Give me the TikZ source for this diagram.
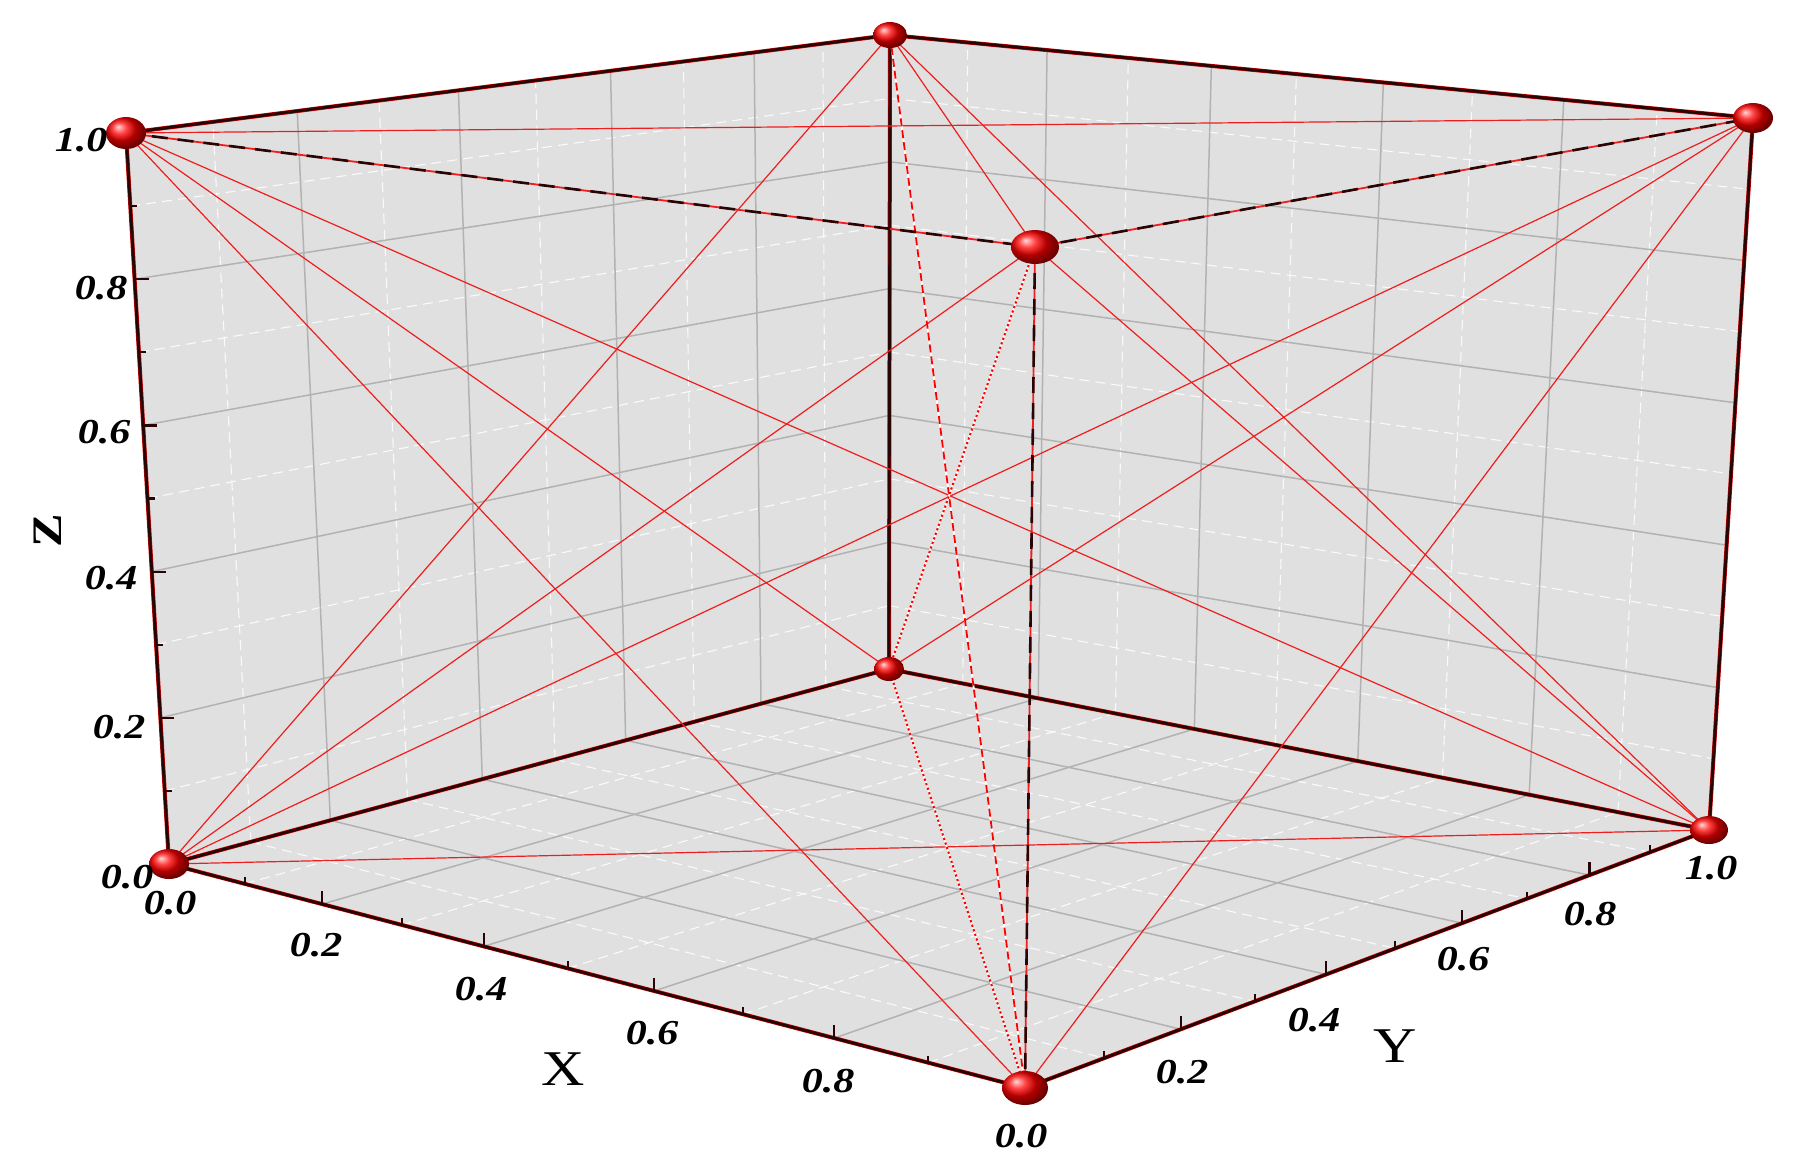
\documentclass[tikz,border=0pt]{standalone}
\usepackage{fontspec}
\setmainfont{Liberation Serif}
\usetikzlibrary{calc}
\definecolor{wallgray}{RGB}{224,224,224}
\definecolor{edgecol}{RGB}{40,4,4}
\definecolor{linkred}{RGB}{238,30,30}
\newcommand\facelines[8]{%
 \foreach \tv in {#8}{%
  \pgfmathsetmacro\ua{(\tv*#3)/(1-\tv+\tv*#3)}%
  \pgfmathsetmacro\ub{(\tv*#6)/(1-\tv+\tv*#6)}%
  \draw[#7] ($(#1)!\ua!(#2)$) -- ($(#4)!\ub!(#5)$);
 }}
\newcommand\axticks[6]{% P0 P1 k list dx dy
 \foreach \tv in {#4}{%
  \pgfmathsetmacro\ua{(\tv*#3)/(1-\tv+\tv*#3)}%
  \draw[ticksty] ($(#1)!\ua!(#2)$) -- ++(#5,#6);
 }}
\newcommand\ticklab[1]{{\fontsize{17.5}{17.5}\selectfont\bfseries\itshape\scalebox{1.2}[1]{#1}}}
\newcommand\ballat[3]{\shade[ball color=red] (#1) ellipse [x radius=#2, y radius=#3];}
\begin{document}
\begin{tikzpicture}[x=0.5pt,y=-0.5pt,
  wall/.style={fill=wallgray},
  major/.style={draw=black!30, line width=0.75pt},
  minor/.style={draw=white!85!wallgray, line width=0.55pt, dash pattern=on 5pt off 3pt},
  edgeunder/.style={draw=red!80!black, line width=2.0pt},
  edge/.style={draw=edgecol, line width=1.4pt},
  link/.style={draw=linkred, line width=0.6pt},
  frontbase/.style={draw=linkred, line width=0.9pt},
  frontdash/.style={draw=edgecol, line width=1.3pt, dash pattern=on 8pt off 5pt},
  redash/.style={draw=red, line width=0.9pt, dash pattern=on 4pt off 2pt},
  redot/.style={draw=red, line width=1pt, dash pattern=on 1.1pt off 1.3pt},
  whiteunder/.style={draw=white, line width=0.9pt},
  ticksty/.style={draw=edgecol, line width=1.1pt},
  lab/.style={inner sep=0pt},
  ]
\useasboundingbox (0,0) rectangle (1803,1174);
% corners
\coordinate (E) at (169,864);
\coordinate (H) at (1025,1088);
\coordinate (F) at (889,669);
\coordinate (G) at (1709,830);
\coordinate (A) at (126,133);
\coordinate (D) at (1035,247);
\coordinate (B) at (890,35);
\coordinate (C) at (1753,118);
% walls
\fill[wall] (E) -- (F) -- (B) -- (A) -- cycle;
\fill[wall] (F) -- (G) -- (C) -- (B) -- cycle;
\fill[wall] (E) -- (H) -- (G) -- (F) -- cycle;
% grid: left wall (x=0)
\facelines{E}{F}{1.156}{A}{B}{1.156}{minor}{0.1,0.3,0.5,0.7,0.9}
\facelines{E}{A}{1}{F}{B}{1}{minor}{0.1,0.3,0.5,0.7,0.9}
\facelines{E}{F}{1.156}{A}{B}{1.156}{major}{0.2,0.4,0.6,0.8}
\facelines{E}{A}{1}{F}{B}{1}{major}{0.2,0.4,0.6,0.8}
% grid: back wall (y=1)
\facelines{F}{G}{0.89}{B}{C}{0.89}{minor}{0.1,0.3,0.5,0.7,0.9}
\facelines{F}{B}{1}{G}{C}{1}{minor}{0.1,0.3,0.5,0.7,0.9}
\facelines{F}{G}{0.89}{B}{C}{0.89}{major}{0.2,0.4,0.6,0.8}
\facelines{F}{B}{1}{G}{C}{1}{major}{0.2,0.4,0.6,0.8}
% grid: floor (z=0)
\facelines{E}{H}{0.872}{F}{G}{0.89}{minor}{0.1,0.3,0.5,0.7,0.9}
\facelines{E}{F}{1.156}{H}{G}{1.18}{minor}{0.1,0.3,0.5,0.7,0.9}
\facelines{E}{H}{0.872}{F}{G}{0.89}{major}{0.2,0.4,0.6,0.8}
\facelines{E}{F}{1.156}{H}{G}{1.18}{major}{0.2,0.4,0.6,0.8}
% back edges
\foreach \p/\q in {A/B,B/C,A/E,B/F,C/G,E/F,F/G,E/H,H/G}{
  \draw[edgeunder] (\p) -- (\q);
  \draw[edge] (\p) -- (\q);
}
% ticks
\axticks{E}{H}{0.872}{0.2,0.4,0.6,0.8}{0}{-13}
\axticks{E}{H}{0.872}{0.1,0.3,0.5,0.7,0.9}{0}{-7}
\axticks{H}{G}{1.18}{0.2,0.4,0.6,0.8}{0}{-13}
\axticks{H}{G}{1.18}{0.1,0.3,0.5,0.7,0.9}{0}{-7}
\axticks{E}{A}{1}{0.2,0.4,0.6,0.8}{14}{0}
\axticks{E}{A}{1}{0.1,0.3,0.5,0.7,0.9}{7}{0}
% red links
\foreach \p/\q in {A/C,A/F,A/G,A/H,B/D,B/E,B/G,C/E,C/F,C/H,D/E,D/G,E/G}{
  \draw[link] (\p) -- (\q);
}
\draw[whiteunder] (B) -- (H);
\draw[redash] (B) -- (H);
\draw[whiteunder] (D) -- (F);
\draw[redot] (D) -- (F);
\draw[whiteunder] (F) -- (H);
\draw[redot] (F) -- (H);
% front (dashed) edges
\foreach \p/\q in {A/D,D/C,D/H}{
  \draw[frontbase] (\p) -- (\q);
  \draw[frontdash] (\p) -- (\q);
}
% spheres
\ballat{A}{10pt}{8pt}
\ballat{B}{8.5pt}{6.5pt}
\ballat{C}{10pt}{7.5pt}
\ballat{D}{12pt}{8.5pt}
\ballat{E}{10pt}{7.5pt}
\ballat{F}{7.5pt}{6pt}
\ballat{G}{9.5pt}{7pt}
\ballat{H}{11.5pt}{8.5pt}
% Z labels
\node[lab] (z0) at (127,877) {\ticklab{0.0}};
\node[lab] (z2) at (119,727) {\ticklab{0.2}};
\node[lab] (z4) at (111,578) {\ticklab{0.4}};
\node[lab] (z6) at (104,432) {\ticklab{0.6}};
\node[lab] (z8) at (101,288) {\ticklab{0.8}};
\node[lab] (z10) at (81,140) {\ticklab{1.0}};
% X labels
\node[lab] (x0) at (170,903) {\ticklab{0.0}};
\node[lab] (x2) at (316,945) {\ticklab{0.2}};
\node[lab] (x4) at (481,989) {\ticklab{0.4}};
\node[lab] (x6) at (652,1033) {\ticklab{0.6}};
\node[lab] (x8) at (828,1081) {\ticklab{0.8}};
% Y labels
\node[lab] (y0) at (1021,1136) {\ticklab{0.0}};
\node[lab] (y2) at (1182,1072) {\ticklab{0.2}};
\node[lab] (y4) at (1314,1020) {\ticklab{0.4}};
\node[lab] (y6) at (1463,959) {\ticklab{0.6}};
\node[lab] (y8) at (1590,914) {\ticklab{0.8}};
\node[lab] (y10) at (1711,868) {\ticklab{1.0}};
% axis titles
\node[lab] (xt) at (563,1069) {\fontsize{25}{25}\selectfont\scalebox{1.2}[1]{X}};
\node[lab] (yt) at (1395,1046) {\fontsize{25}{25}\selectfont\scalebox{1.2}[1]{Y}};
\node[lab, rotate=90] (zt) at (48,531) {\fontsize{21}{21}\selectfont\bfseries\scalebox{1.2}[1]{Z}};
\end{tikzpicture}
\end{document}
